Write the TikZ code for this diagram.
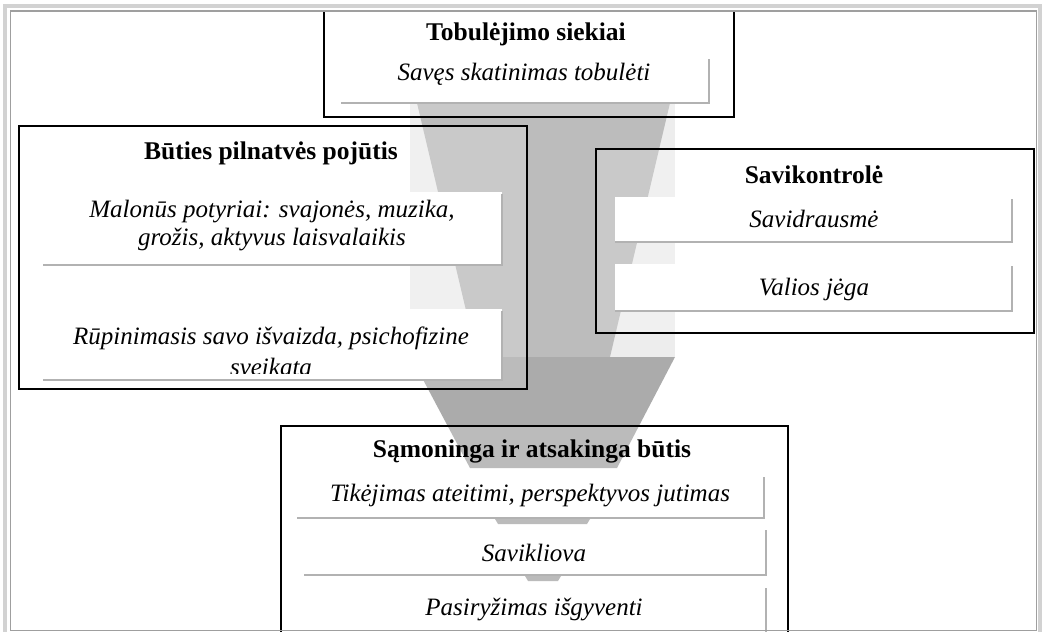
\documentclass[tikz,border=0pt]{standalone}
\usepackage{fontspec}
\setmainfont{Liberation Serif}
\definecolor{funlight}{HTML}{EDEDED}
\definecolor{funmid}{HTML}{BCBCBC}
\definecolor{fundark}{HTML}{ABABAB}
\definecolor{shadowc}{HTML}{B2B2B2}
\begin{document}
\begin{tikzpicture}[x=1pt,y=-1pt,
  bigbox/.style={draw=black, line width=1.6pt, fill=white, fill opacity=0.2, anchor=north west, inner sep=0pt},
  subbox/.style={fill=white, anchor=north west, inner sep=0pt},
  shade/.style={draw=shadowc, line width=2pt},
  ttl/.style={font=\fontsize{25.5}{29}\selectfont\bfseries, inner sep=0pt},
  itx/.style={font=\fontsize{25}{28}\selectfont\itshape, align=center, inner sep=0pt},
]
\clip (0,0) rectangle (1042,632);
\fill[white] (0,0) rectangle (1042,632);
% funnel
\fill[funlight] (410,103) rectangle (675,357);
\fill[funmid] (417,103) -- (670,103) -- (610,357) -- (477,357) -- cycle;
\fill[fundark] (411,357) -- (675,357) -- (617,468) -- (470,468) -- cycle;
\fill[fundark] (495,519) -- (590,519) -- (587,524) -- (498,524) -- cycle;
\fill[fundark] (525,576) -- (561,576) -- (558,581) -- (528,581) -- cycle;
% big boxes
\node[bigbox, minimum width=410pt, minimum height=106pt] (tob) at (323,10) {};
\node[bigbox, minimum width=508pt, minimum height=263pt] (but) at (18,125) {};
\node[bigbox, minimum width=438pt, minimum height=184pt] (sav) at (595,148) {};
\node[bigbox, minimum width=507pt, minimum height=230pt] (sam) at (280,425) {};
% sub boxes
\node[subbox, minimum width=368pt, minimum height=46pt] (t1) at (341,57) {};
\node[subbox, minimum width=459pt, minimum height=73pt] (b1) at (43,192) {};
\node[subbox, minimum width=459pt, minimum height=71pt] (b2) at (43,309) {};
\node[subbox, minimum width=397pt, minimum height=45pt] (s1) at (615,197) {};
\node[subbox, minimum width=397pt, minimum height=47pt] (s2) at (615,264) {};
\node[subbox, minimum width=467pt, minimum height=43pt] (q1) at (297,475) {};
\node[subbox, minimum width=462pt, minimum height=47pt] (q2) at (304,528) {};
\node[subbox, minimum width=462pt, minimum height=60pt] (q3) at (304,586) {};
\foreach \n in {t1,b1,b2,s1,s2,q1,q2,q3}{
  \draw[shade] ([yshift=-2pt]\n.north east) -- (\n.south east) -- (\n.south west);
}
% texts
\node[ttl] (tobt) at (526,34) {Tobulėjimo siekiai};
\node[itx] (t1t) at (524,74) {Savęs skatinimas tobulėti};
\node[ttl] (butt) at (271,153) {Būties pilnatvės pojūtis};
\node[itx] (b1t) at (272,226) {Malonūs potyriai: svajonės, muzika,\\grožis, aktyvus laisvalaikis};
\begin{scope}
\clip (43,300) rectangle (502,373);
\node[itx, font=\fontsize{25}{31}\selectfont\itshape] (b2t) at (271,351) {Rūpinimasis savo išvaizda, psichofizine\\sveikata};
\end{scope}
\node[ttl] (savt) at (814,175) {Savikontrolė};
\node[itx] (s1t) at (814,219) {Savidrausmė};
\node[itx] (s2t) at (814,289) {Valios jėga};
\node[ttl] (samt) at (532,451) {Sąmoninga ir atsakinga būtis};
\node[itx] (q1t) at (530,496) {Tikėjimas ateitimi, perspektyvos jutimas};
\node[itx] (q2t) at (534,553) {Savikliova};
\node[itx] (q3t) at (534,609) {Pasiryžimas išgyventi};
% outer frame
\draw[gray!35, line width=4pt] (5,6) rectangle (1040,634);
\draw[gray!75, line width=1.4pt] (10.5,11) rectangle (1036.5,630.5);
\end{tikzpicture}
\end{document}
